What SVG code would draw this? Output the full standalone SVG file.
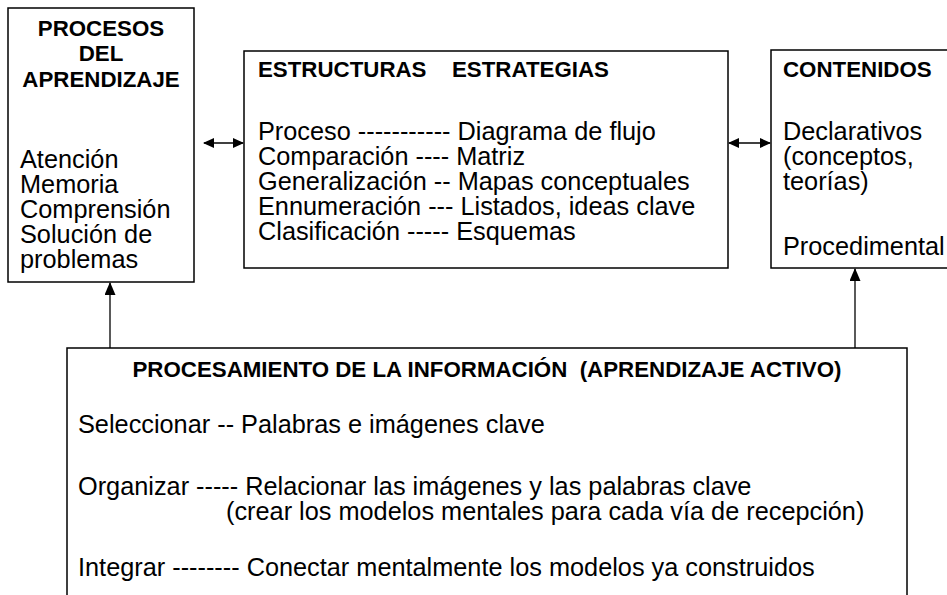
<svg xmlns="http://www.w3.org/2000/svg" width="947" height="595" viewBox="0 0 947 595">
<defs>
<style>
.box{fill:#fff;stroke:#000;stroke-width:1.5}
.t{font-family:"Liberation Sans",Arial,sans-serif;font-size:25.3px;fill:#000}
.b{font-family:"Liberation Sans",Arial,sans-serif;font-size:22.3px;font-weight:bold;fill:#000}
.c{stroke:#000;stroke-width:1.3;fill:none}
</style>
<marker id="ah" markerWidth="11" markerHeight="11" refX="10" refY="5" orient="auto-start-reverse" markerUnits="userSpaceOnUse">
<path d="M0,0 L11,5 L0,10 Z" fill="#000"/>
</marker>
<marker id="ahv" markerWidth="13" markerHeight="12" refX="12" refY="5.5" orient="auto" markerUnits="userSpaceOnUse">
<path d="M0,0 L13,5.5 L0,11 Z" fill="#000"/>
</marker>
</defs>
<rect width="947" height="595" fill="#fff"/>
<g id="procesos">
<rect class="box" x="8" y="8" width="186" height="274"/>
<text class="b" x="101" y="36" text-anchor="middle">PROCESOS</text>
<text class="b" x="101" y="61" text-anchor="middle">DEL</text>
<text class="b" x="101" y="87" text-anchor="middle">APRENDIZAJE</text>
<text class="t" x="20" y="168">Atención</text>
<text class="t" x="20" y="193">Memoria</text>
<text class="t" x="20" y="218">Comprensión</text>
<text class="t" x="20" y="243">Solución de</text>
<text class="t" x="20" y="268">problemas</text>
</g>
<g id="estructuras">
<rect class="box" x="244" y="51" width="484" height="217"/>
<text class="b" y="77"><tspan x="258">ESTRUCTURAS</tspan><tspan x="452">ESTRATEGIAS</tspan></text>
<text class="t" x="258" y="140">Proceso ----------- Diagrama de flujo</text>
<text class="t" x="258" y="165">Comparación ---- Matriz</text>
<text class="t" x="258" y="190">Generalización -- Mapas conceptuales</text>
<text class="t" x="258" y="215">Ennumeración --- Listados, ideas clave</text>
<text class="t" x="258" y="240">Clasificación ----- Esquemas</text>
</g>
<g id="contenidos">
<rect class="box" x="771" y="50" width="190" height="218"/>
<text class="b" x="783" y="77">CONTENIDOS</text>
<text class="t" x="783" y="140">Declarativos</text>
<text class="t" x="783" y="165">(conceptos,</text>
<text class="t" x="783" y="190">teorías)</text>
<text class="t" x="783" y="255">Procedimental</text>
</g>
<g id="procesamiento">
<rect class="box" x="67" y="348" width="840" height="260"/>
<text class="b" x="487" y="377" text-anchor="middle" xml:space="preserve">PROCESAMIENTO DE LA INFORMACIÓN  (APRENDIZAJE ACTIVO)</text>
<text class="t" x="78" y="433">Seleccionar -- Palabras e imágenes clave</text>
<text class="t" x="78" y="495">Organizar ----- Relacionar las imágenes y las palabras clave</text>
<text class="t" x="226" y="520">(crear los modelos mentales para cada vía de recepción)</text>
<text class="t" x="78" y="576">Integrar -------- Conectar mentalmente los modelos ya construidos</text>
</g>
<g id="connectors">
<line class="c" x1="204" y1="143" x2="243" y2="143" marker-start="url(#ah)" marker-end="url(#ah)"/>
<line class="c" x1="729" y1="143" x2="770" y2="143" marker-start="url(#ah)" marker-end="url(#ah)"/>
<line class="c" x1="110" y1="348" x2="110" y2="283" marker-end="url(#ahv)"/>
<line class="c" x1="855" y1="348" x2="855" y2="269" marker-end="url(#ahv)"/>
</g>
</svg>
